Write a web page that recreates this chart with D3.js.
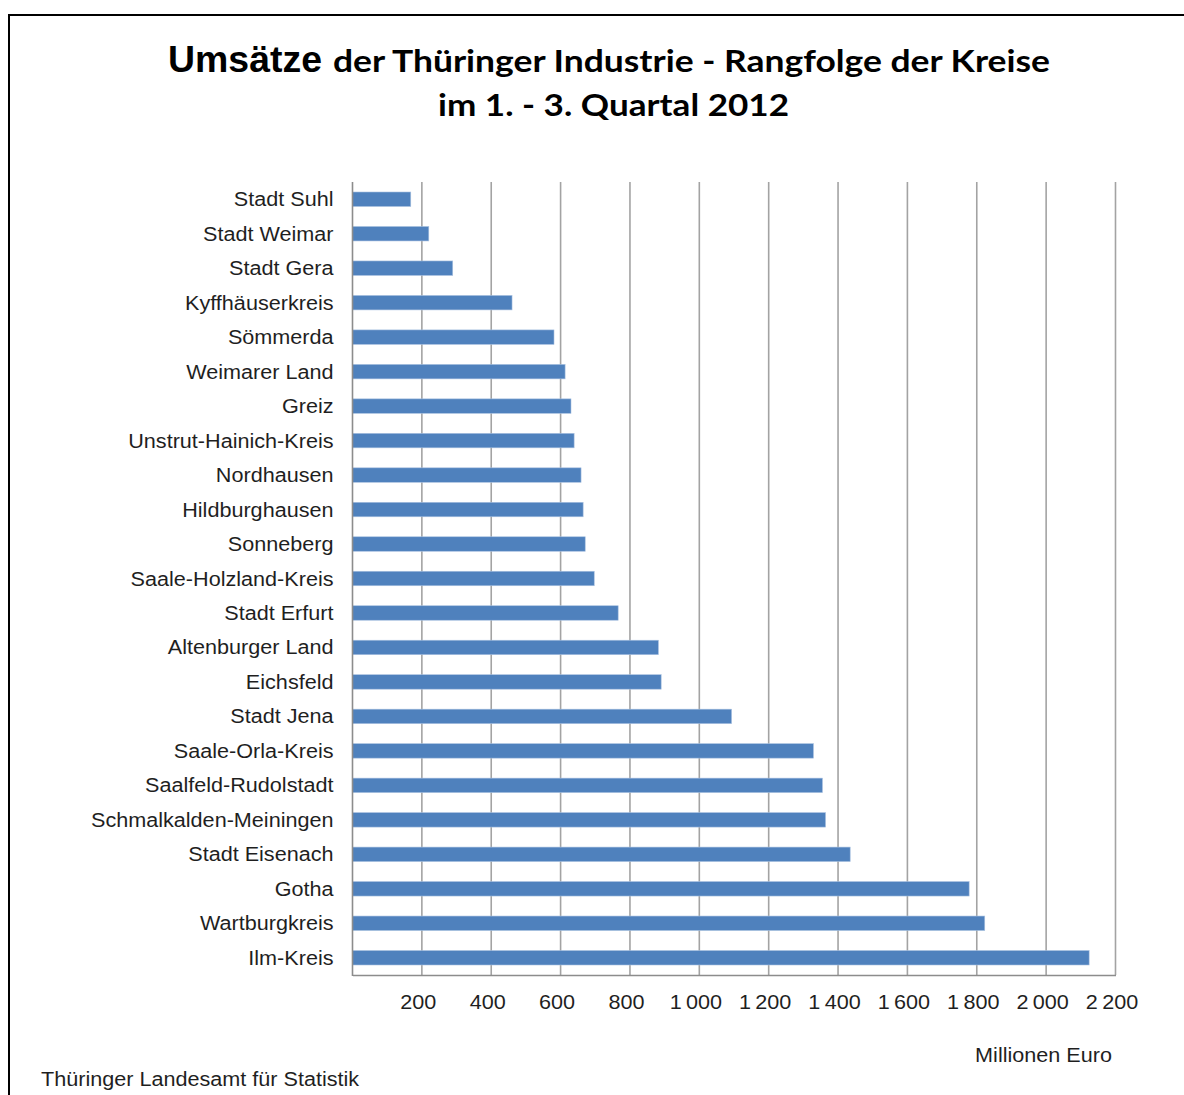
<!DOCTYPE html>
<html>
<head>
<meta charset="utf-8">
<script src="https://cdn.jsdelivr.net/npm/d3@7"></script>
<style>
  body { margin: 0; background: #fff; }
  svg { display: block; }
  .lbl { font-family: "Liberation Sans", Arial, sans-serif; font-size: 20px; fill: #1f1f1f; }
</style>
</head>
<body>
<div class="chart"></div>
<script>
// Daten: Umsätze in Mio. Euro, 1.-3. Quartal 2012
const kreise = ['Stadt Suhl', 'Stadt Weimar', 'Stadt Gera', 'Kyffhäuserkreis', 'Sömmerda',
  'Weimarer Land', 'Greiz', 'Unstrut-Hainich-Kreis', 'Nordhausen', 'Hildburghausen',
  'Sonneberg', 'Saale-Holzland-Kreis', 'Stadt Erfurt', 'Altenburger Land', 'Eichsfeld',
  'Stadt Jena', 'Saale-Orla-Kreis', 'Saalfeld-Rudolstadt', 'Schmalkalden-Meiningen',
  'Stadt Eisenach', 'Gotha', 'Wartburgkreis', 'Ilm-Kreis'];
const umsatz = [168, 220, 289, 460, 581, 613, 630, 639, 659, 665, 671, 697, 766,
  882, 890, 1093, 1329, 1355, 1364, 1435, 1778, 1823, 2124];
const x_ticks = [200, 400, 600, 800, 1000, 1200, 1400, 1600, 1800, 2000, 2200];
const x_max = 2200;

const data = kreise.map((k, i) => ({kreis: k, wert: umsatz[i]}));

const svg_width = 1184;
const svg_height = 1095;
const margin = {top: 182, left: 352.5, right: 1184 - 1115.5, bottom: 1095 - 975};
const chart_width = svg_width - margin.left - margin.right;
const chart_height = svg_height - margin.top - margin.bottom;

const svg = d3.select('.chart').append('svg')
  .attr('width', svg_width)
  .attr('height', svg_height);

// Rahmen
svg.append('path')
  .attr('d', `M9,${svg_height} V15 H${svg_width}`)
  .attr('fill', 'none')
  .attr('stroke', '#000')
  .attr('stroke-width', 2);

// Titel
svg.append('text')
  .attr('x', 168).attr('y', 72)
  .style('font-family', '"Liberation Sans", Arial, sans-serif')
  .style('font-weight', 'bold')
  .style('font-size', '36px')
  .attr('textLength', 154)
  .attr('lengthAdjust', 'spacingAndGlyphs')
  .text('Umsätze');
svg.append('text')
  .attr('x', 333).attr('y', 72)
  .style('font-family', 'Lato, "Open Sans", sans-serif')
  .style('font-weight', 'bold')
  .style('font-size', '31px')
  .attr('textLength', 717)
  .attr('lengthAdjust', 'spacingAndGlyphs')
  .text('der Thüringer Industrie - Rangfolge der Kreise');
svg.append('text')
  .attr('x', 438).attr('y', 116)
  .style('font-family', 'Lato, "Open Sans", sans-serif')
  .style('font-weight', 'bold')
  .style('font-size', '31px')
  .attr('textLength', 351)
  .attr('lengthAdjust', 'spacingAndGlyphs')
  .text('im 1. - 3. Quartal 2012');

const g = svg.append('g')
  .attr('transform', `translate(${margin.left},${margin.top})`);

const x_scale = d3.scaleLinear().domain([0, x_max]).range([0, chart_width]);
const y_scale = d3.scaleBand()
  .domain(kreise)
  .range([0, chart_height])
  .paddingInner(0.58)
  .paddingOuter(0.29);

// Gitterlinien
g.selectAll('.grid')
  .data(x_ticks)
  .enter()
  .append('line')
  .attr('class', 'grid')
  .attr('x1', d => x_scale(d)).attr('x2', d => x_scale(d))
  .attr('y1', 0).attr('y2', chart_height)
  .attr('stroke', '#a3a3a3')
  .attr('stroke-width', 1.6);

// x-Achse
const x_axis = d3.axisBottom(x_scale)
  .tickValues(x_ticks)
  .tickSize(0)
  .tickPadding(0)
  .tickFormat(d => d3.format(',')(d).replace(',', '\u2009'));
const x_axis_draw = g.append('g')
  .attr('transform', `translate(0,${chart_height})`)
  .call(x_axis);
x_axis_draw.attr('font-size', null).attr('font-family', null);
x_axis_draw.select('.domain').attr('stroke', '#8c8c8c').attr('stroke-width', 1.6);
x_axis_draw.selectAll('text')
  .attr('class', 'lbl')
  .attr('dy', null)
  .attr('y', 34)
  .attr('dx', -4);

// Balken
g.selectAll('.bar')
  .data(data)
  .enter()
  .append('rect')
  .attr('class', 'bar')
  .attr('x', 0)
  .attr('y', d => y_scale(d.kreis))
  .attr('width', d => x_scale(d.wert))
  .attr('height', y_scale.bandwidth())
  .attr('fill', '#4f81bd')
  .attr('stroke', '#a9c1e0')
  .attr('stroke-width', 0.6);

// y-Achse
const y_axis = d3.axisLeft(y_scale).tickSize(0).tickPadding(19);
const y_axis_draw = g.append('g').call(y_axis);
y_axis_draw.attr('font-size', null).attr('font-family', null);
y_axis_draw.select('.domain').attr('stroke', '#8c8c8c').attr('stroke-width', 1.6)
  .attr('d', `M0,0V${chart_height + 1}`);
y_axis_draw.selectAll('text')
  .attr('class', 'lbl')
  .attr('dy', '0.35em');

// Beschriftungen
svg.append('text')
  .attr('class', 'lbl')
  .attr('x', 1112).attr('y', 1062)
  .attr('text-anchor', 'end')
  .text('Millionen Euro');
svg.append('text')
  .attr('class', 'lbl')
  .attr('x', 41).attr('y', 1086)
  .text('Thüringer Landesamt für Statistik');

// Arial-Texte leicht in die Breite ziehen wie im Original
svg.selectAll('text.lbl').each(function () {
  const len = this.getComputedTextLength();
  d3.select(this)
    .attr('textLength', len * 1.08)
    .attr('lengthAdjust', 'spacingAndGlyphs');
});
</script>
</body>
</html>
